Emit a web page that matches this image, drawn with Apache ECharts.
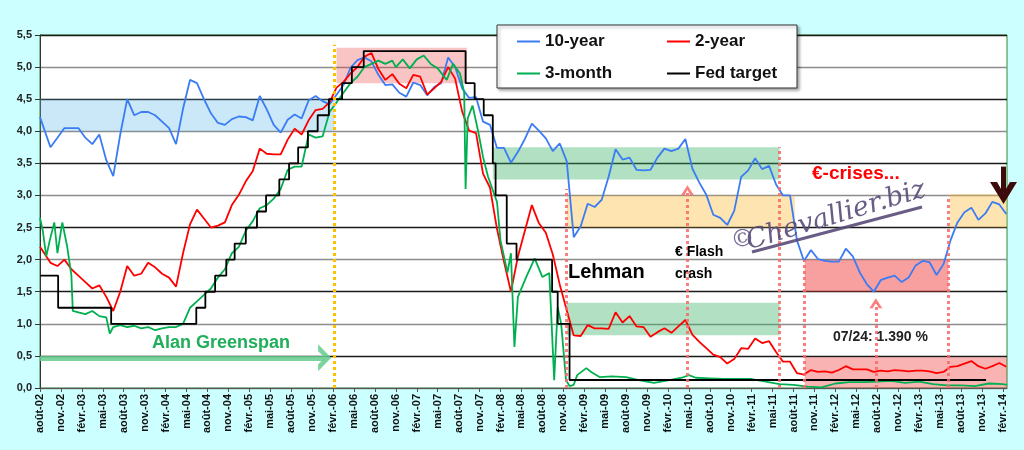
<!DOCTYPE html>
<html>
<head>
<meta charset="utf-8">
<script src="https://cdn.jsdelivr.net/npm/echarts@6/dist/echarts.min.js"></script>
<style>
  html, body { margin: 0; padding: 0; background: #ccffff; }
  #chart { width: 1024px; height: 450px; }
</style>
</head>
<body>
<div id="chart"></div>
<script>
// quarterly tick labels, month 0 = août-02
const tickLabels = [
  'août-02', 'nov.-02',
  'févr.-03', 'mai-03', 'août-03', 'nov.-03',
  'févr.-04', 'mai-04', 'août-04', 'nov.-04',
  'févr.-05', 'mai-05', 'août-05', 'nov.-05',
  'févr.-06', 'mai-06', 'août-06', 'nov.-06',
  'févr.-07', 'mai-07', 'août-07', 'nov.-07',
  'févr.-08', 'mai-08', 'août-08', 'nov.-08',
  'févr.-09', 'mai-09', 'août-09', 'nov.-09',
  'févr.-10', 'mai-10', 'août-10', 'nov.-10',
  'févr.-11', 'mai-11', 'août-11', 'nov.-11',
  'févr.-12', 'mai-12', 'août-12', 'nov.-12',
  'févr.-13', 'mai-13', 'août-13', 'nov.-13',
  'févr.-14'
];

// monthly readings, Aug 2002 .. Feb 2014
const tenYear = [
  4.22, 3.75, 3.90, 4.05, 4.05,
  4.05, 3.90, 3.80, 3.95, 3.55, 3.30, 3.95, 4.50, 4.25, 4.30, 4.30, 4.25,
  4.15, 4.05, 3.80, 4.35, 4.80, 4.75, 4.50, 4.28, 4.13, 4.10, 4.19, 4.23,
  4.22, 4.17, 4.55, 4.34, 4.10, 3.98, 4.18, 4.26, 4.20, 4.48, 4.55, 4.47,
  4.42, 4.57, 4.72, 4.99, 5.11, 5.15, 5.09, 4.88, 4.72, 4.73, 4.60, 4.54,
  4.76, 4.72, 4.56, 4.69, 4.75, 5.15, 5.00, 4.67, 4.52, 4.53, 4.15, 4.10,
  3.74, 3.74, 3.51, 3.68, 3.88, 4.12, 4.01, 3.89, 3.69, 3.81, 3.53, 2.35,
  2.52, 2.87, 2.82, 2.93, 3.29, 3.72, 3.56, 3.59, 3.40, 3.39, 3.40, 3.59,
  3.73, 3.69, 3.73, 3.88, 3.42, 3.20, 3.01, 2.70, 2.65, 2.54, 2.76, 3.29,
  3.39, 3.58, 3.41, 3.46, 3.17, 3.00, 3.00, 2.30, 1.98, 2.15, 2.01, 1.98,
  1.97, 1.97, 2.17, 2.05, 1.80, 1.62, 1.50, 1.68, 1.72, 1.75, 1.65, 1.72,
  1.91, 1.98, 1.96, 1.76, 1.93, 2.30, 2.58, 2.74, 2.81, 2.62, 2.72, 2.90,
  2.86, 2.71
];

const twoYear = [
  2.20, 1.95, 1.90, 2.00, 1.85,
  1.75, 1.65, 1.55, 1.60, 1.42, 1.20, 1.50, 1.90, 1.75, 1.78, 1.95, 1.88,
  1.78, 1.72, 1.58, 2.10, 2.55, 2.78, 2.64, 2.50, 2.53, 2.58, 2.85, 3.01,
  3.22, 3.38, 3.73, 3.65, 3.64, 3.64, 3.87, 4.04, 3.95, 4.17, 4.33, 4.35,
  4.45, 4.68, 4.77, 4.90, 5.00, 5.16, 5.22, 4.97, 4.80, 4.89, 4.74, 4.67,
  4.88, 4.85, 4.57, 4.67, 4.77, 5.00, 4.82, 4.31, 4.01, 3.97, 3.34, 3.12,
  2.48, 1.97, 1.50, 2.05, 2.45, 2.85, 2.57, 2.42, 2.08, 1.61, 1.21, 0.82,
  0.81, 0.98, 0.93, 0.93, 0.92, 1.18, 1.02, 1.12, 0.96, 0.95, 0.80, 0.87,
  0.93, 0.86, 0.96, 1.06, 0.83, 0.72, 0.62, 0.52, 0.48, 0.38, 0.45, 0.62,
  0.61, 0.77, 0.70, 0.73, 0.56, 0.41, 0.41, 0.23, 0.21, 0.28, 0.25, 0.26,
  0.24, 0.28, 0.34, 0.29, 0.29, 0.29, 0.25, 0.27, 0.26, 0.28, 0.27, 0.26,
  0.27, 0.27, 0.26, 0.23, 0.25, 0.33, 0.34, 0.38, 0.42, 0.34, 0.30, 0.34,
  0.39, 0.33
];

// 3-month: [month, value]
const threeMonth = [
  [0, 2.65], [0.4, 2.45], [0.9, 2.05], [1.4, 2.3], [2.05, 2.58], [2.5, 2.1],
  [3.2, 2.58], [3.9, 2.2], [4.5, 1.75], [4.7, 1.2], [5.5, 1.18], [6.5, 1.15],
  [7.5, 1.2], [8.5, 1.12], [9.5, 1.1], [10, 0.85], [10.5, 0.95], [11.5, 0.98],
  [12.5, 0.95], [13.5, 0.97], [14.5, 0.93], [15.5, 0.95], [16.5, 0.9], [17.5, 0.93],
  [18.5, 0.95], [19.5, 0.95], [20.5, 1.0], [21.5, 1.25], [22.5, 1.35], [23.5, 1.45],
  [24.5, 1.55], [25.5, 1.72], [26.5, 1.85], [27.5, 2.1], [28.5, 2.2], [29.5, 2.45],
  [30.5, 2.6], [31.5, 2.8], [32.5, 2.85], [33.5, 2.95], [34.5, 3.1], [35.5, 3.4],
  [36.5, 3.45], [37.5, 3.45], [38.5, 3.95], [39.5, 3.9], [40.5, 3.92], [41.5, 4.3],
  [42.5, 4.45], [43.5, 4.6], [44.5, 4.75], [45.5, 4.85], [46.5, 5.0], [47.5, 5.05],
  [48.5, 5.1], [49.5, 5.05], [50.5, 5.1], [51, 5.0], [52, 5.12], [53, 4.98],
  [54, 5.12], [55, 5.18], [56, 5.05], [57, 4.98], [58.3, 4.8], [59.2, 5.05],
  [60.2, 4.9], [60.8, 4.6], [61.0, 3.1], [61.3, 4.2], [62, 4.4], [62.8, 4.0],
  [63.5, 3.6], [64.2, 3.3], [65, 3.05], [65.5, 2.9], [66, 2.3], [67, 1.8],
  [67.5, 2.1], [68, 0.64], [68.5, 1.42], [69.7, 1.73], [70.9, 2.02], [72, 1.73],
  [73, 1.79], [73.7, 0.12], [74.2, 1.26], [74.7, 1.0], [75.4, 0.12], [75.9, 0.03],
  [76.5, 0.05], [77, 0.2], [78.3, 0.31], [79, 0.25], [80.2, 0.17], [82, 0.18],
  [84, 0.17], [86, 0.12], [88, 0.08], [90, 0.12], [92, 0.16], [93, 0.2],
  [94, 0.16], [96, 0.15], [98, 0.14], [100, 0.14], [102, 0.14], [104, 0.1],
  [106, 0.06], [108, 0.05], [110, 0.02], [112, 0.01], [114, 0.07], [116, 0.09],
  [118, 0.09], [120, 0.1], [122, 0.11], [124, 0.08], [126, 0.1], [128, 0.06],
  [130, 0.04], [132, 0.04], [134, 0.03], [136, 0.07], [138, 0.06], [138.6, 0.05]
];

// Fed target: [month of change, rate]
const fedTarget = [
  [0, 1.75], [2.6, 1.25], [10.2, 1.0], [22.4, 1.25], [23.7, 1.5], [25.1, 1.75],
  [26.7, 2.0], [27.9, 2.25], [29.5, 2.5], [31.1, 2.75], [32.4, 3.0], [34.3, 3.25],
  [35.7, 3.5], [37.0, 3.75], [38.4, 4.0], [39.8, 4.25], [41.4, 4.5], [43.3, 4.75],
  [44.7, 5.0], [46.4, 5.25], [61.0, 4.75], [62.3, 4.5], [63.6, 4.25], [64.9, 3.5],
  [65.3, 3.0], [66.9, 2.25], [68.3, 2.0], [73.4, 1.5], [74.2, 1.0], [75.9, 0.125],
  [135.6, 0.125]
];

const FONT = "'Liberation Sans', Arial, sans-serif";
const chevron = 'path://M0,10 L5,0 L10,10 L7.4,10 L5,4.8 L2.6,10 Z';

// monthly values sit mid-month
function monthly(values) {
  return values.map((v, i) => [i === 0 ? 0 : i + 0.5, v]);
}

function zone(x0, x1, y0, y1, color) {
  return [{ coord: [x0, y0], itemStyle: { color: color } }, { coord: [x1, y1] }];
}

function vline(x, y0, y1, style, arrow) {
  const end = { coord: [x, y1] };
  if (arrow) {
    end.symbol = chevron;
    end.symbolSize = arrow;
  }
  return [{ coord: [x, y0], lineStyle: style }, end];
}

// one legend per item so the columns line up
function legendItem(name, left, top) {
  return {
    data: [name], left: left, top: top, padding: 0,
    icon: 'rect', itemWidth: 23, itemHeight: 2,
    selectedMode: false, z: 10,
    textStyle: { fontFamily: FONT, fontWeight: 'bold', fontSize: 17, color: '#111' }
  };
}

const pinkDots = { color: 'rgba(250,105,105,0.85)', width: 3, type: [3, 3] };
const blueZone = 'rgba(95,185,230,0.33)';
const pinkZone = 'rgba(235,60,60,0.3)';
const greenZone = 'rgba(50,175,95,0.38)';
const orangeZone = 'rgba(250,185,50,0.38)';
const redZone = 'rgba(240,45,45,0.45)';

const chart = echarts.init(document.getElementById('chart'));

const option = {
  backgroundColor: '#ccffff',
  animation: false,
  grid: {
    left: 40, right: 17, top: 35, bottom: 62,
    show: true, backgroundColor: '#ffffff',
    borderColor: '#2e8b2e', borderWidth: 1
  },
  legend: [
    legendItem('10-year', 517, 33),
    legendItem('2-year', 667, 33),
    legendItem('3-month', 517, 65),
    legendItem('Fed target', 667, 65)
  ],
  xAxis: {
    type: 'value',
    min: 0,
    max: 138.6,
    interval: 3,
    axisLine: { lineStyle: { color: '#555', width: 1 } },
    axisTick: { length: 4, lineStyle: { color: '#555' } },
    splitLine: { show: false },
    axisLabel: {
      rotate: 90,
      showMaxLabel: false,
      margin: 6,
      fontFamily: FONT,
      fontWeight: 'bold',
      fontSize: 11,
      color: '#111',
      formatter: v => tickLabels[Math.round(v / 3)] || ''
    }
  },
  yAxis: {
    type: 'value',
    min: 0,
    max: 5.5,
    interval: 0.5,
    axisLine: { show: true, lineStyle: { color: '#333', width: 1 } },
    axisTick: { show: true, length: 5, lineStyle: { color: '#333' } },
    splitLine: { lineStyle: { color: ['#8c8c8c', '#1a1a1a'], width: 1.3 } },
    axisLabel: {
      fontFamily: FONT,
      fontWeight: 'bold',
      fontSize: 11,
      color: '#222',
      margin: 8,
      formatter: v => v.toFixed(1).replace('.', ',')
    }
  },
  series: [
    {
      name: '10-year', type: 'line', data: monthly(tenYear),
      symbol: 'none', lineStyle: { color: '#3b7cf4', width: 1.8 },
      itemStyle: { color: '#3b7cf4' }, z: 2
    },
    {
      name: '2-year', type: 'line', data: monthly(twoYear),
      symbol: 'none', lineStyle: { color: '#ff0000', width: 1.8 },
      itemStyle: { color: '#ff0000' }, z: 2
    },
    {
      name: '3-month', type: 'line', data: threeMonth,
      symbol: 'none', lineStyle: { color: '#00b050', width: 1.8 },
      itemStyle: { color: '#00b050' }, z: 2
    },
    {
      name: 'Fed target', type: 'line', step: 'end', data: fedTarget,
      symbol: 'none', lineStyle: { color: '#000000', width: 1.8 },
      itemStyle: { color: '#000000' }, z: 2
    },
    {
      // shaded zones and dotted markers, on their own layer over the curves
      name: 'zones', type: 'line', data: [], zlevel: 1,
      markArea: {
        silent: true,
        data: [
          zone(0, 42.2, 4.0, 4.5, blueZone),
          zone(42.5, 61.2, 4.75, 5.3, pinkZone),
          zone(64.9, 106, 3.25, 3.75, greenZone),
          zone(75.5, 108.2, 2.5, 3.0, orangeZone),
          zone(130.4, 138.6, 2.5, 3.02, orangeZone),
          zone(75.5, 106, 0.82, 1.33, greenZone),
          zone(109.6, 130.2, 1.5, 2.0, redZone),
          zone(109.6, 138.6, 0, 0.48, 'rgba(240,45,45,0.36)')
        ]
      },
      markLine: {
        silent: true,
        symbol: ['none', 'none'],
        label: { show: false },
        data: [
          vline(42.2, 0, 5.35, { color: '#ffc000', width: 3, type: [3, 3] }),
          vline(75.4, 0, 3.1, pinkDots),
          vline(92.8, 0, 3.08, pinkDots, [13, 10]),
          vline(105.9, 0, 3.75, pinkDots),
          vline(109.6, 0, 2.0, pinkDots),
          vline(119.8, 0, 1.32, pinkDots, [13, 10]),
          vline(130.2, 0, 3.0, pinkDots),
          [
            { coord: [0, 0.47], lineStyle: { color: 'rgba(100,205,140,0.85)', width: 5, type: 'solid' } },
            { coord: [40.8, 0.47], symbol: chevron, symbolSize: [27, 13] }
          ],
          [
            { coord: [138.1, 3.45], lineStyle: { color: '#3d0b0b', width: 5, type: 'solid' } },
            { coord: [138.1, 3.04], symbol: chevron, symbolSize: [27, 22] }
          ]
        ]
      }
    }
  ],
  graphic: [
    {
      type: 'rect', z: 3,
      shape: { x: 497, y: 25, width: 300, height: 63 },
      style: {
        fill: '#ffffff', stroke: '#333', lineWidth: 1,
        shadowBlur: 3, shadowOffsetX: 2, shadowOffsetY: 2, shadowColor: 'rgba(0,0,0,0.35)'
      }
    },
    {
      type: 'text', z: 20, zlevel: 2, x: 152, y: 343,
      style: { text: 'Alan Greenspan', font: 'bold 18px ' + FONT, fill: '#1fae5a', verticalAlign: 'middle' }
    },
    {
      type: 'text', z: 20, zlevel: 2, x: 568, y: 272,
      style: { text: 'Lehman', font: 'bold 20px ' + FONT, fill: '#000', verticalAlign: 'middle' }
    },
    {
      type: 'text', z: 20, zlevel: 2, x: 675, y: 241,
      style: { text: '€ Flash\ncrash', font: 'bold 14px ' + FONT, fill: '#000', lineHeight: 22 }
    },
    {
      type: 'text', z: 20, zlevel: 2, x: 812, y: 174,
      style: { text: '€-crises...', font: 'bold 19px ' + FONT, fill: '#ff0000', verticalAlign: 'middle' }
    },
    {
      type: 'text', z: 20, zlevel: 2, x: 833, y: 337,
      style: { text: '07/24: 1.390 %', font: 'bold 14px ' + FONT, fill: '#222', verticalAlign: 'middle' }
    },
    {
      type: 'text', z: 20, zlevel: 2, x: 743, y: 240, rotation: 0.2,
      style: { text: '©', font: '24px DejaVu Serif', fill: '#7a6c98', align: 'center', verticalAlign: 'middle' }
    },
    {
      type: 'text', z: 20, zlevel: 2, x: 836, y: 216, rotation: 0.29,
      style: {
        text: 'Chevallier.biz', font: 'italic 27px DejaVu Serif', fill: '#5a4b78',
        align: 'center', verticalAlign: 'middle', opacity: 0.9
      }
    },
    {
      type: 'line', z: 20, zlevel: 2,
      shape: { x1: 752, y1: 252, x2: 922, y2: 207 },
      style: { stroke: '#5a4b78', lineWidth: 3, opacity: 0.9 }
    }
  ]
};

chart.setOption(option);
</script>
</body>
</html>
